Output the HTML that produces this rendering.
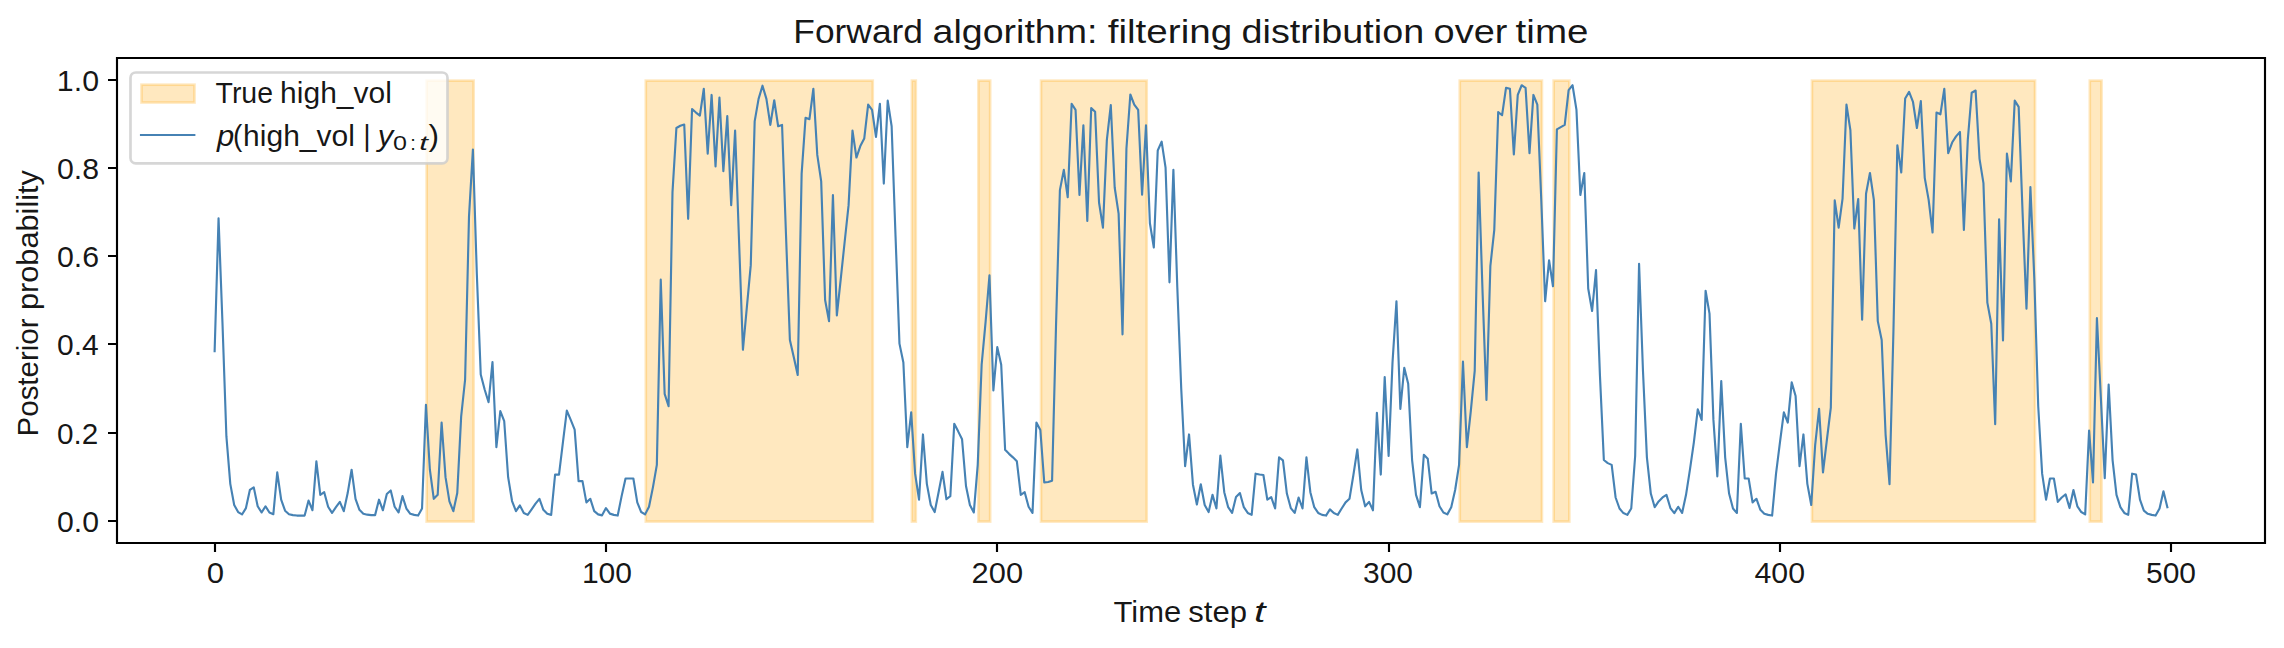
<!DOCTYPE html>
<html><head><meta charset="utf-8"><title>Forward algorithm: filtering distribution over time</title><style>
html,body{margin:0;padding:0;background:#fff;}
body{width:2284px;height:648px;overflow:hidden;}
svg{display:block;}
</style></head><body>
<svg width="2284" height="648" viewBox="0 0 2284 648">
<rect width="2284" height="648" fill="#fff"/>
<defs><clipPath id="ax"><rect x="117.0" y="57.9" width="2148.0" height="485.0"/></clipPath></defs>
<g clip-path="url(#ax)">
<rect x="426.653426" y="80.64545000000005" width="46.95934799999998" height="440.90909000000005" fill="#ffa500" fill-opacity="0.25" stroke="#ffa500" stroke-opacity="0.25" stroke-width="2.667"/>
<rect x="645.79705" y="80.64545000000005" width="226.97018200000002" height="440.90909000000005" fill="#ffa500" fill-opacity="0.25" stroke="#ffa500" stroke-opacity="0.25" stroke-width="2.667"/>
<rect x="911.900022" y="80.64545000000005" width="3.9132789999999886" height="440.90909000000005" fill="#ffa500" fill-opacity="0.25" stroke="#ffa500" stroke-opacity="0.25" stroke-width="2.667"/>
<rect x="978.4257650000001" y="80.64545000000005" width="11.739836999999966" height="440.90909000000005" fill="#ffa500" fill-opacity="0.25" stroke="#ffa500" stroke-opacity="0.25" stroke-width="2.667"/>
<rect x="1041.038229" y="80.64545000000005" width="105.65853300000003" height="440.90909000000005" fill="#ffa500" fill-opacity="0.25" stroke="#ffa500" stroke-opacity="0.25" stroke-width="2.667"/>
<rect x="1459.759082" y="80.64545000000005" width="82.1788590000001" height="440.90909000000005" fill="#ffa500" fill-opacity="0.25" stroke="#ffa500" stroke-opacity="0.25" stroke-width="2.667"/>
<rect x="1553.677778" y="80.64545000000005" width="15.653116000000182" height="440.90909000000005" fill="#ffa500" fill-opacity="0.25" stroke="#ffa500" stroke-opacity="0.25" stroke-width="2.667"/>
<rect x="1811.9541920000001" y="80.64545000000005" width="223.05690299999992" height="440.90909000000005" fill="#ffa500" fill-opacity="0.25" stroke="#ffa500" stroke-opacity="0.25" stroke-width="2.667"/>
<rect x="2089.797001" y="80.64545000000005" width="11.73983700000008" height="440.90909000000005" fill="#ffa500" fill-opacity="0.25" stroke="#ffa500" stroke-opacity="0.25" stroke-width="2.667"/>
<polyline points="214.64,351.10 218.55,218.39 222.46,322.45 226.38,436.20 230.29,483.82 234.20,504.98 238.12,512.04 242.03,514.46 245.94,508.07 249.86,489.99 253.77,487.35 257.68,506.30 261.60,512.48 265.51,506.30 269.42,512.48 273.34,514.24 277.25,472.35 281.16,499.69 285.08,510.71 288.99,514.24 292.90,515.12 296.82,515.56 300.73,515.56 304.64,515.56 308.56,500.57 312.47,510.27 316.38,461.33 320.29,494.84 324.21,492.20 328.12,506.75 332.03,512.92 335.95,507.19 339.86,501.90 343.77,511.15 347.69,493.08 351.60,469.71 355.51,498.81 359.43,509.83 363.34,513.80 367.25,514.68 371.17,515.12 375.08,515.12 378.99,499.69 382.91,510.27 386.82,493.96 390.73,490.43 394.65,506.75 398.56,512.48 402.47,496.16 406.39,508.51 410.30,513.80 414.21,514.86 418.13,515.56 422.04,508.51 425.95,404.90 429.87,469.71 433.78,498.81 437.69,494.84 441.61,422.53 445.52,477.20 449.43,501.45 453.35,511.15 457.26,493.08 461.17,416.36 465.09,379.76 469.00,216.63 472.91,149.61 476.83,273.95 480.74,374.47 484.65,389.46 488.57,402.25 492.48,362.13 496.39,447.22 500.31,411.07 504.22,421.21 508.13,477.20 512.05,501.01 515.96,511.15 519.87,505.42 523.79,512.92 527.70,514.86 531.61,509.39 535.53,503.66 539.44,498.81 543.35,509.83 547.27,513.80 551.18,514.86 555.09,474.56 559.00,474.56 562.92,442.37 566.83,410.63 570.74,419.89 574.66,429.59 578.57,481.17 582.48,481.17 586.40,502.34 590.31,498.81 594.22,511.15 598.14,514.37 602.05,515.34 605.96,508.07 609.88,513.62 613.79,514.86 617.70,515.56 621.62,496.16 625.53,478.53 629.44,478.53 633.36,478.53 637.27,502.34 641.18,512.04 645.10,514.37 649.01,506.75 652.92,487.35 656.84,464.86 660.75,279.68 664.66,393.87 668.58,406.22 672.49,192.38 676.40,128.00 680.32,125.80 684.23,124.48 688.14,218.83 692.06,109.05 695.97,112.57 699.88,115.66 703.80,88.76 707.71,153.58 711.62,94.94 715.54,166.36 719.45,97.58 723.36,171.21 727.28,116.10 731.19,205.16 735.10,130.65 739.02,240.00 742.93,349.78 746.84,307.45 750.76,265.13 754.67,121.39 758.58,98.90 762.50,85.68 766.41,98.90 770.32,124.92 774.24,100.23 778.15,126.24 782.06,124.92 785.98,234.26 789.89,340.08 793.80,357.28 797.71,374.91 801.63,173.86 805.54,117.86 809.45,119.19 813.37,88.76 817.28,154.90 821.19,181.35 825.11,299.96 829.02,321.12 832.93,195.02 836.85,315.39 840.76,278.80 844.67,241.76 848.59,205.16 852.50,130.65 856.41,157.55 860.33,146.08 864.24,138.59 868.15,104.64 872.07,109.93 875.98,136.82 879.89,103.75 883.81,183.56 887.72,100.67 891.63,126.24 895.55,236.47 899.46,343.61 903.37,362.57 907.29,447.22 911.20,412.39 915.11,473.68 919.03,499.69 922.94,434.44 926.85,483.82 930.77,504.98 934.68,512.04 938.59,492.20 942.51,471.91 946.42,499.25 950.33,496.16 954.25,423.85 958.16,431.35 962.07,439.29 965.99,486.02 969.90,504.98 973.81,512.48 977.73,464.86 981.64,364.77 985.55,322.45 989.47,275.27 993.38,390.35 997.29,347.14 1001.21,364.77 1005.12,449.87 1009.03,453.84 1012.95,457.36 1016.86,461.33 1020.77,494.84 1024.69,492.20 1028.60,506.75 1032.51,512.92 1036.42,422.53 1040.34,430.03 1044.25,482.50 1048.16,482.05 1052.08,480.73 1055.99,326.85 1059.90,190.17 1063.82,169.89 1067.73,197.23 1071.64,103.75 1075.56,109.93 1079.47,195.02 1083.38,125.36 1087.30,221.04 1091.21,108.16 1095.12,111.69 1099.04,202.52 1102.95,227.65 1106.86,139.91 1110.78,105.08 1114.69,187.53 1118.60,213.54 1122.52,334.35 1126.43,148.73 1130.34,94.50 1134.26,104.64 1138.17,109.93 1142.08,194.58 1146.00,125.36 1149.91,223.24 1153.82,247.49 1157.74,150.49 1161.65,141.67 1165.56,167.69 1169.48,282.32 1173.39,169.89 1177.30,287.17 1181.22,388.58 1185.13,466.18 1189.04,434.44 1192.96,484.70 1196.87,504.54 1200.78,484.26 1204.70,504.98 1208.61,512.04 1212.52,494.84 1216.44,508.51 1220.35,455.60 1224.26,492.20 1228.18,507.19 1232.09,512.92 1236.00,497.05 1239.92,493.08 1243.83,507.19 1247.74,512.92 1251.66,514.86 1255.57,473.68 1259.48,474.56 1263.40,475.00 1267.31,499.69 1271.22,497.05 1275.13,508.51 1279.05,457.36 1282.96,460.45 1286.87,493.52 1290.79,508.07 1294.70,512.92 1298.61,497.49 1302.53,508.51 1306.44,457.36 1310.35,492.20 1314.27,507.19 1318.18,512.92 1322.09,514.86 1326.01,515.56 1329.92,509.39 1333.83,513.09 1337.75,514.86 1341.66,508.51 1345.57,502.34 1349.49,498.81 1353.40,475.00 1357.31,449.43 1361.23,489.99 1365.14,506.30 1369.05,501.90 1372.97,510.27 1376.88,412.83 1380.79,474.56 1384.71,377.12 1388.62,456.04 1392.53,362.13 1396.45,301.28 1400.36,408.86 1404.27,367.86 1408.19,383.73 1412.10,460.01 1416.01,494.84 1419.93,507.19 1423.84,454.72 1427.75,458.69 1431.67,493.52 1435.58,491.75 1439.49,506.30 1443.41,512.48 1447.32,514.37 1451.23,507.19 1455.15,489.99 1459.06,464.86 1462.97,361.69 1466.89,447.22 1470.80,411.07 1474.71,370.95 1478.63,172.54 1482.54,291.58 1486.45,400.05 1490.37,266.01 1494.28,229.85 1498.19,112.13 1502.11,115.22 1506.02,87.88 1509.93,88.76 1513.84,154.46 1517.76,94.94 1521.67,85.24 1525.58,87.88 1529.50,153.14 1533.41,94.94 1537.32,104.64 1541.24,198.99 1545.15,301.28 1549.06,260.28 1552.98,286.29 1556.89,129.33 1560.80,127.12 1564.72,124.92 1568.63,90.09 1572.54,85.24 1576.46,109.93 1580.37,195.02 1584.28,172.98 1588.20,288.50 1592.11,310.98 1596.02,269.98 1599.94,375.35 1603.85,460.01 1607.76,463.10 1611.68,464.86 1615.59,497.49 1619.50,508.51 1623.42,513.09 1627.33,514.86 1631.24,508.51 1635.16,456.04 1639.07,263.80 1642.98,370.95 1646.90,457.36 1650.81,493.52 1654.72,507.19 1658.64,501.45 1662.55,497.49 1666.46,494.84 1670.38,508.07 1674.29,513.09 1678.20,506.75 1682.12,512.92 1686.03,494.84 1689.94,469.71 1693.86,442.37 1697.77,409.30 1701.68,419.89 1705.60,290.70 1709.51,313.63 1713.42,419.89 1717.34,476.32 1721.25,381.09 1725.16,457.36 1729.08,493.52 1732.99,508.51 1736.90,512.92 1740.82,423.85 1744.73,478.53 1748.64,478.53 1752.56,502.34 1756.47,498.81 1760.38,509.83 1764.29,513.80 1768.21,514.86 1772.12,515.56 1776.03,473.68 1779.95,442.37 1783.86,412.39 1787.77,422.53 1791.69,382.41 1795.60,396.08 1799.51,466.18 1803.43,434.44 1807.34,483.82 1811.25,504.98 1815.17,445.02 1819.08,408.86 1822.99,472.35 1826.91,439.73 1830.82,407.54 1834.73,200.31 1838.65,227.65 1842.56,198.55 1846.47,104.64 1850.39,130.21 1854.30,228.53 1858.21,198.99 1862.13,319.80 1866.04,193.70 1869.95,172.98 1873.87,199.87 1877.78,321.12 1881.69,340.08 1885.61,434.88 1889.52,484.26 1893.43,331.26 1897.35,145.20 1901.26,172.54 1905.17,98.46 1909.09,91.85 1913.00,101.99 1916.91,128.00 1920.83,101.11 1924.74,177.83 1928.65,199.87 1932.57,232.50 1936.48,112.57 1940.39,114.34 1944.31,88.76 1948.22,153.14 1952.13,142.55 1956.05,136.38 1959.96,131.97 1963.87,229.85 1967.79,139.91 1971.70,92.73 1975.61,90.53 1979.53,158.87 1983.44,183.12 1987.35,302.60 1991.27,323.77 1995.18,424.30 1999.09,219.27 2003.00,340.52 2006.92,153.58 2010.83,181.35 2014.74,100.67 2018.66,106.84 2022.57,212.22 2026.48,308.78 2030.40,187.09 2034.31,278.35 2038.22,406.22 2042.14,473.68 2046.05,499.69 2049.96,478.53 2053.88,478.53 2057.79,501.90 2061.70,497.49 2065.62,494.40 2069.53,508.07 2073.44,489.99 2077.36,506.30 2081.27,512.04 2085.18,514.37 2089.10,430.47 2093.01,482.50 2096.92,318.04 2100.84,397.40 2104.75,478.09 2108.66,384.61 2112.58,460.01 2116.49,494.84 2120.40,507.19 2124.32,512.92 2128.23,514.86 2132.14,473.68 2136.06,474.56 2139.97,499.69 2143.88,510.71 2147.80,513.80 2151.71,514.86 2155.62,515.56 2159.54,508.51 2163.45,491.31 2167.36,507.19" fill="none" stroke="#4682b4" stroke-width="2.133" stroke-linejoin="round" stroke-linecap="square"/>
</g>
<path d="M117 58H2265M117 543H2265M117 58V543M2265 58V543" fill="none" stroke="#000" stroke-width="2.133" stroke-linecap="square"/>
<path d="M215 543V552M606 543V552M997 543V552M1389 543V552M1780 543V552M2171 543V552M108 521H117M108 433H117M108 344H117M108 256H117M108 168H117M108 80H117" fill="none" stroke="#000" stroke-width="2.133"/>
<g font-family='"Liberation Sans", sans-serif' fill="#000" fill-opacity="0.91">
<text x="0" y="0" font-size="33.9" transform="translate(793.284,43.000) scale(1.0441,1)">Forward</text>
<text x="0" y="0" font-size="33.9" transform="translate(932.619,43.000) scale(1.1071,1)">algorithm:</text>
<text x="0" y="0" font-size="33.9" transform="translate(1107.645,43.000) scale(1.1404,1)">filtering</text>
<text x="0" y="0" font-size="33.9" transform="translate(1241.604,43.000) scale(1.1142,1)">distribution</text>
<text x="0" y="0" font-size="33.9" transform="translate(1433.581,43.000) scale(1.1206,1)">over</text>
<text x="0" y="0" font-size="33.9" transform="translate(1515.597,43.000) scale(1.1388,1)">time</text>
<text x="0" y="0" font-size="28.6" transform="translate(1113.493,622.000) scale(1.0833,1)">Time</text>
<text x="0" y="0" font-size="28.6" transform="translate(1188.298,622.000) scale(1.0885,1)">step</text>
<text x="0" y="0" font-size="28.6" font-style="italic" transform="translate(1254.108,622.000) scale(1.4480,1)">t</text>
<text x="0" y="0" font-size="28.6" transform="translate(56.999,532.000) scale(1.0570,1)">0.0</text>
<text x="0" y="0" font-size="28.6" transform="translate(56.994,444.000) scale(1.0399,1)">0.2</text>
<text x="0" y="0" font-size="28.6" transform="translate(56.985,355.000) scale(1.0497,1)">0.4</text>
<text x="0" y="0" font-size="28.6" transform="translate(56.995,267.000) scale(1.0610,1)">0.6</text>
<text x="0" y="0" font-size="28.6" transform="translate(56.996,179.000) scale(1.0602,1)">0.8</text>
<text x="0" y="0" font-size="28.6" transform="translate(56.848,91.000) scale(1.0611,1)">1.0</text>
<text x="0" y="0" font-size="28.6" transform="translate(206.840,583.000) scale(1.0892,1)">0</text>
<text x="0" y="0" font-size="28.6" transform="translate(581.879,583.000) scale(1.0509,1)">100</text>
<text x="0" y="0" font-size="28.6" transform="translate(971.623,583.000) scale(1.0778,1)">200</text>
<text x="0" y="0" font-size="28.6" transform="translate(1363.025,583.000) scale(1.0477,1)">300</text>
<text x="0" y="0" font-size="28.6" transform="translate(1754.467,583.000) scale(1.0596,1)">400</text>
<text x="0" y="0" font-size="28.6" transform="translate(2145.964,583.000) scale(1.0490,1)">500</text>
<text x="0" y="0" font-size="28.6" transform="translate(38.000,436.383) rotate(-90) scale(1.0305,1)">Posterior</text>
<text x="0" y="0" font-size="28.6" transform="translate(38.000,310.034) rotate(-90) scale(1.0742,1)">probability</text>
</g>
<rect x="130.5" y="72.5" width="317" height="90.8" rx="5.333" ry="5.333" fill="#fff" fill-opacity="0.8" stroke="#cccccc" stroke-opacity="0.8" stroke-width="2.667"/>
<rect x="141.5" y="84.7" width="53" height="17.8" fill="#ffa500" fill-opacity="0.25" stroke="#ffa500" stroke-opacity="0.25" stroke-width="2.667"/>
<line x1="141" y1="135" x2="194.33" y2="135" stroke="#4682b4" stroke-width="2.133" stroke-linecap="square"/>
<g font-family='"Liberation Sans", sans-serif' fill="#000" fill-opacity="0.91">
<text x="0" y="0" font-size="28.6" transform="translate(215.542,103.000) scale(0.9965,1)">True</text>
<text x="0" y="0" font-size="28.6" transform="translate(280.115,103.000) scale(1.0486,1)">high_vol</text>
<text x="0" y="0" font-size="28.6" font-style="italic" transform="translate(216.902,146.000) scale(1.0820,1)">p</text>
<text x="0" y="0" font-size="28.6" transform="translate(232.882,146.000) scale(0.9817,1)">(</text>
<text x="0" y="0" font-size="28.6" transform="translate(243.115,146.000) scale(1.0486,1)">high_vol</text>
<text x="0" y="0" font-size="28.6" transform="translate(363.296,146.000) scale(1.0000,1)">|</text>
<text x="0" y="0" font-size="28.6" font-style="italic" transform="translate(377.832,146.000) scale(1.0855,1)">y</text>
<text x="0" y="0" font-size="20.0" transform="translate(393.021,150.000) scale(1.2552,1)">0</text>
<text x="0" y="0" font-size="20.0" transform="translate(410.220,150.000) scale(1.0000,1)">:</text>
<text x="0" y="0" font-size="20.0" font-style="italic" transform="translate(419.290,150.000) scale(1.5573,1)">t</text>
<text x="0" y="0" font-size="28.6" transform="translate(428.610,146.000) scale(1.1083,1)">)</text>
</g>
</svg>
</body></html>
